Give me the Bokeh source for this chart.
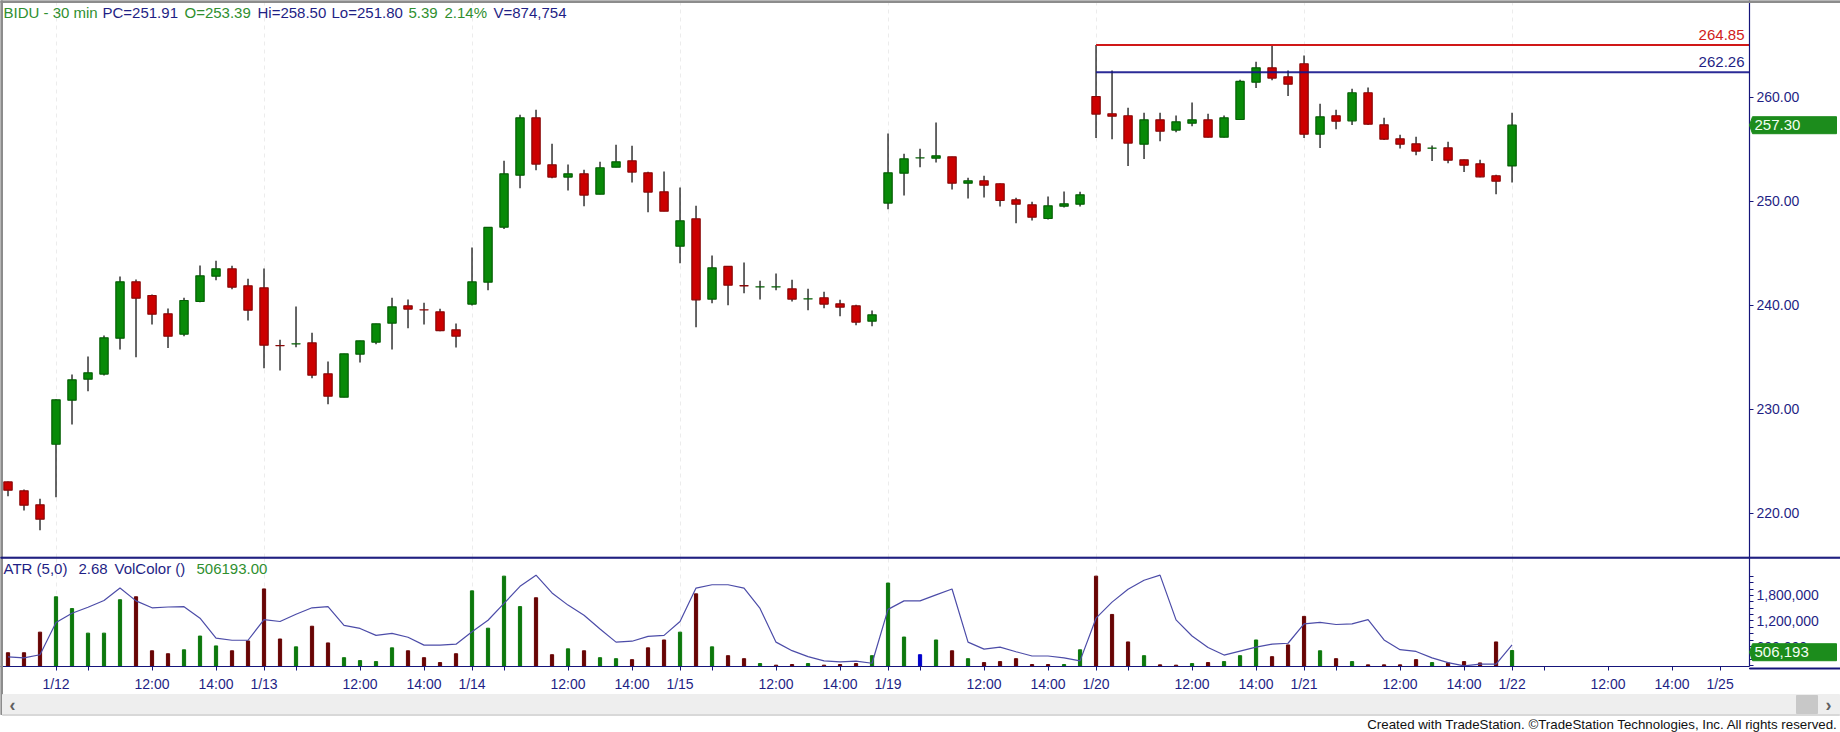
import numpy as np
from bokeh.core.properties import value
from bokeh.embed import file_html
from bokeh.layouts import column
from bokeh.models import FixedTicker, NumeralTickFormatter, Range1d
from bokeh.plotting import figure
from bokeh.resources import INLINE

#########################################################
# data
#########################################################

opens = [223.01, 222.15, 220.80, 226.63, 230.87, 232.88, 233.37, 236.83, 242.24, 240.93, 239.17, 237.21, 240.35,
         242.79, 243.49, 241.86, 241.67, 236.11, 236.28, 236.38, 233.40, 231.15, 235.29, 236.44, 238.27, 239.94,
         239.56, 239.36, 237.63, 240.10, 242.21, 247.50, 252.50, 258.01, 253.49, 252.31, 252.63, 250.67, 253.27,
         253.88, 252.72, 250.90, 245.67, 248.30, 240.58, 243.72, 241.87, 241.75, 241.75, 241.57, 240.60, 240.71,
         240.13, 239.94, 238.46, 249.81, 252.69, 254.16, 254.13, 254.26, 251.73, 251.96, 251.67, 250.13, 249.65,
         248.33, 249.52, 249.71, 260.06, 258.40, 258.21, 255.48, 257.82, 256.83, 257.50, 257.82, 256.15, 257.85,
         261.44, 262.82, 261.96, 263.21, 256.44, 258.21, 257.72, 260.42, 257.34, 255.99, 255.51, 255.09, 255.13,
         253.97, 253.59, 252.44, 253.39]
highs = [223.05, 222.28, 221.38, 230.95, 233.33, 235.06, 237.08, 242.76, 242.47, 241.03, 239.68, 240.71, 243.81,
         244.26, 243.78, 242.53, 243.53, 236.67, 239.87, 237.34, 234.58, 235.32, 236.57, 238.21, 240.71, 240.55,
         240.22, 239.65, 238.24, 245.54, 247.50, 253.88, 258.30, 258.78, 255.51, 253.53, 253.01, 253.78, 255.42,
         255.32, 252.82, 252.85, 251.31, 249.55, 244.78, 243.75, 244.10, 242.34, 243.04, 242.44, 241.57, 241.28,
         240.51, 240.03, 239.49, 256.51, 254.55, 255.03, 257.56, 254.28, 252.24, 252.44, 251.70, 250.32, 249.94,
         250.45, 250.93, 250.90, 265.00, 262.56, 258.97, 258.49, 258.49, 258.24, 259.49, 258.40, 258.24, 261.67,
         263.40, 265.00, 262.56, 264.01, 259.36, 258.78, 260.80, 260.93, 258.01, 256.38, 256.19, 255.35, 255.71,
         254.00, 253.97, 252.53, 258.50]
lows = [221.63, 220.26, 218.37, 221.54, 228.53, 231.73, 233.24, 235.74, 235.00, 238.14, 235.87, 237.02, 240.29,
        242.40, 241.54, 238.53, 233.94, 233.72, 235.96, 232.98, 230.48, 231.15, 234.49, 236.25, 235.74, 237.79,
        238.14, 237.50, 235.93, 239.97, 241.44, 247.31, 251.25, 252.98, 252.21, 251.03, 249.52, 250.67, 253.27,
        251.79, 248.94, 249.04, 244.04, 237.88, 240.19, 240.00, 241.15, 240.54, 241.44, 240.35, 239.52, 239.71,
        238.94, 238.08, 237.98, 249.23, 250.54, 253.27, 253.72, 251.12, 250.26, 250.35, 249.49, 247.88, 248.14,
        248.24, 249.39, 249.49, 256.06, 255.96, 253.37, 254.04, 255.77, 256.63, 257.21, 256.12, 256.12, 257.79,
        260.87, 261.63, 260.10, 256.06, 255.10, 256.92, 257.31, 257.31, 255.87, 255.06, 254.42, 253.85, 253.65,
        252.79, 252.30, 250.67, 251.80]
closes = [222.21, 220.77, 219.42, 230.90, 232.82, 233.49, 236.86, 242.24, 240.67, 239.13, 237.02, 240.45, 242.82,
          243.49, 241.73, 239.52, 236.15, 236.10, 236.29, 233.27, 231.25, 235.32, 236.57, 238.21, 239.84, 239.62,
          239.55, 237.56, 237.02, 242.24, 247.47, 252.63, 258.01, 253.56, 252.31, 252.63, 250.58, 253.21, 253.78,
          252.79, 250.87, 249.04, 248.11, 240.51, 243.59, 241.92, 241.86, 241.76, 241.76, 240.58, 240.61, 240.10,
          239.81, 238.37, 239.07, 252.72, 254.07, 254.17, 254.36, 251.73, 251.96, 251.54, 250.06, 249.71, 248.46,
          249.55, 249.74, 250.61, 258.37, 258.17, 255.58, 257.82, 256.73, 257.63, 257.82, 256.15, 258.01, 261.51,
          262.82, 261.83, 261.25, 256.44, 258.11, 257.69, 260.42, 257.40, 255.96, 255.48, 254.81, 255.10, 253.94,
          253.46, 252.34, 251.92, 257.30]
volumes = [454000, 454000, 938000, 1769000, 1492000, 915000, 915000, 1700000, 1769000, 500000, 431000, 523000,
           846000, 615000, 500000, 731000, 1954000, 777000, 592000, 1077000, 685000, 338000, 269000, 246000, 569000,
           500000, 338000, 223000, 431000, 1908000, 1031000, 2254000, 1538000, 1746000, 408000, 546000, 500000,
           338000, 315000, 292000, 569000, 754000, 938000, 1838000, 592000, 385000, 315000, 200000, 162000, 177000,
           200000, 162000, 177000, 200000, 385000, 2092000, 823000, 408000, 754000, 500000, 315000, 223000, 246000,
           315000, 177000, 177000, 177000, 523000, 2254000, 1354000, 708000, 385000, 169000, 162000, 200000, 223000,
           246000, 385000, 754000, 362000, 638000, 1308000, 500000, 315000, 246000, 169000, 169000, 169000, 292000,
           223000, 215000, 246000, 215000, 708000, 506193]
volume_dir = ("d d d u u u u u d d d u u u d d d d u d d u u u u d d d d u u u u d d u d u u "
              "d d d u d u d d u d d u d d d u u u f u d u d d d d d u u d d d u d d u d u u u d d d u d u d d d d u d d d d u").split()
atr = [1.91, 1.85, 2.05, 4.10, 4.68, 5.06, 5.49, 6.28, 5.47, 5.03, 5.08, 5.10, 4.37, 3.10, 2.97, 2.97, 4.28, 4.16,
       4.62, 5.03, 5.10, 3.91, 3.72, 3.28, 3.41, 3.16, 2.66, 2.66, 2.72, 3.51, 4.24, 5.31, 6.39, 7.10, 5.97, 5.20,
       4.56, 3.68, 2.85, 2.91, 3.22, 3.28, 4.16, 6.28, 6.49, 6.49, 6.28, 4.99, 2.85, 2.31, 1.93, 1.66, 1.60, 1.64,
       1.51, 4.93, 5.47, 5.47, 5.85, 6.22, 2.85, 2.41, 2.53, 2.24, 1.97, 1.97, 1.85, 1.66, 4.37, 5.39, 6.20, 6.78,
       7.10, 4.26, 3.24, 2.51, 2.03, 2.28, 2.53, 2.72, 2.78, 4.01, 4.10, 3.97, 4.01, 4.28, 2.99, 2.37, 2.26, 1.85,
       1.55, 1.35, 1.45, 1.45, 2.68]

day_bars = [3, 16, 29, 42, 55, 68, 81, 94]
day_labels = ["1/12", "1/13", "1/14", "1/15", "1/19", "1/20", "1/21", "1/22"]
future_ticks = {96: "", 100: "12:00", 104: "14:00", 107: "1/25"}
price_ticks = [220, 230, 240, 250, 260]
volume_ticks = [600000, 1200000, 1800000]
volume_minor = [150000, 300000, 450000, 750000, 900000, 1050000, 1350000, 1500000, 1650000, 1950000, 2100000, 2250000]
level_high, level_low = 265.0, 262.4
level_start_bar = 68
last_price = 257.30
last_volume = 506193

header = [("BIDU - 30 min", 3, "green"), ("PC=251.91", 102, "navy"), ("O=253.39", 184, "green"),
          ("Hi=258.50", 257, "navy"), ("Lo=251.80", 331, "navy"), ("5.39", 408, "green"),
          ("2.14%", 444, "green"), ("V=874,754", 493, "navy")]
sub_header = [("ATR (5,0)", 3, "navy"), ("2.68", 78, "navy"), ("VolColor ()", 114, "navy"), ("506193.00", 196, "green")]
footer = "Created with TradeStation. \u00a9TradeStation Technologies, Inc. All rights reserved."

#########################################################
# styles
#########################################################

WIDTH, HEIGHT, AXIS_W = 1840, 732, 91
PRICE_H, VOL_TOP, VOL_FRAME_H = 557, 557, 111
NAVY = "#15157a"
GRAY = "#8c8c8c"
TEXT = {"navy": "#1f1f85", "green": "#2f8f2f", "red": "#d02020"}
UP, UP_EDGE = "#088a08", "#055f05"
DOWN, DOWN_EDGE = "#cc0000", "#8a0808"
VOL_COLORS = {"u": "#0c780c", "d": "#680404", "f": "#0000cc"}
FONT = "Liberation Sans"
X_RANGE = (-0.469, 108.84)
PAGE_TOP_LEFT = {"position": "absolute", "left": "0px", "top": "0px"}


def style_panel(fig):
    fig.outline_line_color = None
    fig.ygrid.visible = False
    fig.xgrid.ticker = FixedTicker(ticks=day_bars)
    fig.xgrid.grid_line_color = "#ececec"
    fig.xgrid.grid_line_dash = "4 4"
    for ax in fig.yaxis:
        ax.axis_line_color = NAVY
        ax.axis_line_width = 1.2
        ax.major_tick_line_color = NAVY
        ax.minor_tick_line_color = NAVY
        ax.major_tick_in = 0
        ax.major_tick_out = 4
        ax.minor_tick_in = 0
        ax.minor_tick_out = 4
        ax.major_label_text_color = TEXT["navy"]
        ax.major_label_text_font = FONT
        ax.major_label_text_font_size = "14px"
        ax.major_label_standoff = 3


#########################################################
# price panel
#########################################################

bars = np.arange(len(closes))
o, h, l, c = np.array(opens), np.array(highs), np.array(lows), np.array(closes)
up = c >= o

p = figure(width=WIDTH, height=PRICE_H, output_backend="svg", toolbar_location=None, x_axis_location=None, y_axis_location="right",
           x_range=Range1d(*X_RANGE), y_range=Range1d(215.74, 269.29), min_border_left=0, min_border_top=0,
           min_border_bottom=0, min_border_right=AXIS_W)
style_panel(p)
p.xgrid.bounds = (215.74, 266.7)
p.yaxis.ticker = FixedTicker(ticks=price_ticks)
p.yaxis.formatter = NumeralTickFormatter(format="0.00")

p.segment(bars, h, bars, l, color="black", line_width=1.2)
p.vbar(bars[up], top=c[up], bottom=o[up], width=0.52, fill_color=UP, line_color=UP_EDGE, line_width=1.2)
p.vbar(bars[~up], top=o[~up], bottom=c[~up], width=0.52, fill_color=DOWN, line_color=DOWN_EDGE, line_width=1.2)

p.segment([level_start_bar], [level_high], [X_RANGE[1]], [level_high], color="#d01818", line_width=2)
p.segment([level_start_bar], [level_low], [X_RANGE[1]], [level_low], color="#14148c", line_width=2, line_alpha=0.9)

#########################################################
# volume / ATR panel
#########################################################

v = figure(width=WIDTH, height=137, output_backend="svg", toolbar_location=None, y_axis_location="right",
           x_range=p.x_range, y_range=Range1d(130800, 2692000), min_border_left=0, min_border_top=0,
           min_border_bottom=26, min_border_right=AXIS_W)
style_panel(v)
v.yaxis.ticker = FixedTicker(ticks=volume_ticks, minor_ticks=volume_minor)
v.yaxis.formatter = NumeralTickFormatter(format="0,0")

x_ticks = {}
for d, lab in zip(day_bars, day_labels):
    if d != 94:
        x_ticks.update({d: lab, d + 2: "", d + 6: "12:00", d + 10: "14:00"})
    else:
        x_ticks[d] = lab
x_ticks.update(future_ticks)
v.xaxis.ticker = FixedTicker(ticks=sorted(x_ticks))
v.xaxis.major_label_overrides = x_ticks
v.xaxis.axis_line_color = NAVY
v.xaxis.major_tick_line_color = NAVY
v.xaxis.major_tick_in = 0
v.xaxis.major_tick_out = 4
v.xaxis.major_label_standoff = 5
v.xaxis.major_label_text_color = TEXT["navy"]
v.xaxis.major_label_text_font = FONT
v.xaxis.major_label_text_font_size = "14px"

v.vbar(bars, top=volumes, bottom=130800, width=0.2, color=[VOL_COLORS[d] for d in volume_dir])
v.extra_y_ranges = {"atr": Range1d(1.305, 8.22)}
v.line(bars, atr, y_range_name="atr", color="#4c4ca8", line_width=1.2)

#########################################################
# transparent layer over the whole page, in page pixels:
# window chrome, the header texts, value tags, scroll bar
#########################################################

f = figure(width=WIDTH, height=HEIGHT, output_backend="svg", toolbar_location=None, x_axis_location=None, y_axis_location=None,
           x_range=Range1d(0, WIDTH), y_range=Range1d(HEIGHT, 0), min_border=0, background_fill_color=None,
           border_fill_color=None, styles=PAGE_TOP_LEFT)
f.outline_line_color = None
f.grid.visible = False


def box(left, right, top, bottom, color):
    f.quad(left=[left], right=[right], top=[top], bottom=[bottom], color=color)


def write(items, sy, size="15px"):
    for txt, x, col in items:
        f.text([x], [sy], text=[txt], text_color=TEXT[col], text_font=value(FONT), text_font_size=size, text_baseline="middle")


# green tag on the axis holding the last value
def value_tag(sy, half, txt):
    f.patch([1749, 1752, 1836, 1836, 1752], [sy, sy - half, sy - half, sy + half, sy + half], color="#1c8c1c")
    f.text([1754], [sy], text=[txt], text_color="#f2fff2", text_font=value(FONT), text_font_size="15px", text_baseline="middle")


def price_y(val):
    rng = p.y_range
    return (rng.end - val) / (rng.end - rng.start) * PRICE_H


def volume_y(val):
    rng = v.y_range
    return VOL_TOP + (rng.end - val) / (rng.end - rng.start) * VOL_FRAME_H


box(0, WIDTH, 0, 2, GRAY)
box(0, 2, 0, 714, GRAY)
box(0, WIDTH, 556.7, 557.7, NAVY)
box(1749, WIDTH, 667.5, 668.5, NAVY)

box(2, 1839, 694, 714, "#eeeeee")
box(1796, 1817, 695, 713, "#c8c8c8")
box(2, 1839, 714, 715, "#d8d8d8")
f.text([12, 1828], [704, 704], text=["\u2039", "\u203a"], text_color="#606060", text_font=value(FONT), text_font_size="18px",
       text_align="center", text_baseline="middle", text_font_style="bold")
f.text([1837.5], [724], text=[footer], text_color="#111111", text_font=value(FONT), text_font_size="13.3px",
       text_align="right", text_baseline="middle")

write(header, 12)
write(sub_header, 568)
for txt, sy, col in [("264.85", 34, "red"), ("262.26", 61, "navy")]:
    f.text([1744], [sy], text=[txt], text_color=TEXT[col], text_font=value(FONT), text_font_size="15px",
           text_align="right", text_baseline="middle")
value_tag(price_y(last_price), 8.5, "257.30")
value_tag(volume_y(last_volume), 8.5, "506,193")

panels = column(p, v, spacing=0, styles=PAGE_TOP_LEFT)
open("out.html", "w").write(file_html([panels, f], INLINE))
